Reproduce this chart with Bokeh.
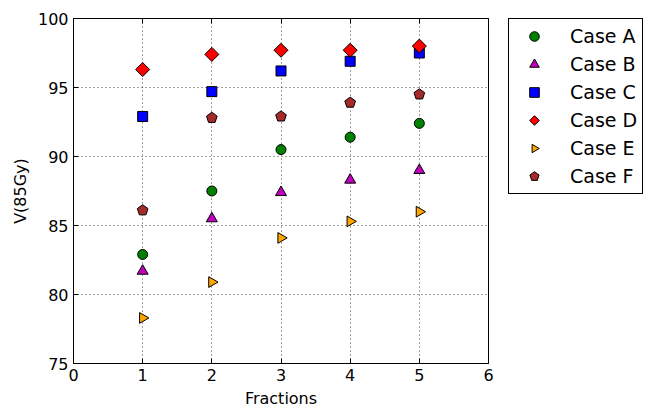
import numpy as np
from bokeh.plotting import figure
from bokeh.models import (ColumnDataSource, Legend, LegendItem, LinearAxis,
                          FixedTicker, Range1d)
from bokeh.embed import file_html
from bokeh.resources import INLINE

# ---- data ----
fractions = [1, 2, 3, 4, 5]
case_a = [82.9, 87.5, 90.5, 91.4, 92.4]
case_b = [81.7, 85.5, 87.4, 88.3, 89.0]
case_c = [92.9, 94.7, 96.2, 96.9, 97.5]
case_d = [96.3, 97.4, 97.7, 97.7, 98.0]
case_e = [78.3, 80.9, 84.1, 85.3, 86.0]
case_f = [86.1, 92.8, 92.9, 93.9, 94.5]
case_names = ["Case A", "Case B", "Case C", "Case D", "Case E", "Case F"]
x_ticks = [0, 1, 2, 3, 4, 5, 6]
y_ticks = [75, 80, 85, 90, 95, 100]
x_label = "Fractions"
y_label = "V(85Gy)"

FONT = "DejaVu Sans"
FW, FH = 415, 345

p = figure(frame_width=FW, frame_height=FH,
           x_range=Range1d(0, 6), y_range=Range1d(75, 100),
           output_backend="svg", toolbar_location=None,
           min_border_left=73, min_border_top=18,
           min_border_right=0, min_border_bottom=44)
p.background_fill_color = "white"
p.border_fill_color = "white"
p.outline_line_color = "black"
p.outline_line_width = 1
p.outline_line_alpha = 1

for ax, ticks in ((p.xaxis[0], x_ticks), (p.yaxis[0], y_ticks)):
    ax.ticker = FixedTicker(ticks=ticks)
    ax.major_tick_in = 5
    ax.major_tick_out = 0
    ax.minor_tick_line_color = None
    ax.axis_line_color = "black"
    ax.major_tick_line_color = "black"
    ax.major_label_text_font = FONT
    ax.major_label_text_font_size = "16px"
    ax.major_label_text_color = "black"
    ax.axis_label_text_font = FONT
    ax.axis_label_text_font_size = "16px"
    ax.axis_label_text_font_style = "normal"
    ax.axis_label_text_color = "black"
    ax.major_label_standoff = 5
    ax.axis_label_standoff = 5

p.xaxis[0].axis_label = x_label
p.yaxis[0].axis_label = y_label

# inward ticks on the top edge (no labels)
top_ax = LinearAxis(ticker=FixedTicker(ticks=x_ticks), major_tick_in=5,
                    major_tick_out=0, minor_tick_line_color=None,
                    major_label_overrides={t: "" for t in x_ticks},
                    major_label_standoff=0, axis_line_color=None)
p.add_layout(top_ax, "above")

for g in (p.xgrid[0], p.ygrid[0]):
    g.grid_line_color = "black"
    g.grid_line_dash = "1 3"
    g.grid_line_width = 1
    g.grid_line_alpha = 0.75

src = ColumnDataSource(dict(x=fractions, a=case_a, b=case_b, c=case_c,
                            d=case_d, e=case_e, f=case_f))

r_a = p.scatter("x", "a", source=src, marker="circle", size=10,
                fill_color="#008000", line_color="black", line_width=1)
r_b = p.scatter("x", "b", source=src, marker="triangle", size=11,
                fill_color="#bf00bf", line_color="black", line_width=1)
r_c = p.scatter("x", "c", source=src, marker="square", size=10,
                fill_color="#0000ff", line_color="black", line_width=1)
r_d = p.ngon("x", "d", source=src, radius=7, radius_units="screen", n=4,
             fill_color="#ff0000", line_color="black", line_width=1)
r_e = p.ngon("x", "e", source=src, radius=6.2, radius_units="screen", n=3,
             angle=-np.pi / 2,
             fill_color="#ffa500", line_color="black", line_width=1)
r_f = p.ngon("x", "f", source=src, radius=5.6, radius_units="screen", n=5,
             fill_color="#a52a2a", line_color="black", line_width=1)

legend = Legend(items=[LegendItem(label=n, renderers=[r])
                       for n, r in zip(case_names, [r_a, r_b, r_c, r_d, r_e, r_f])],
                location=(20, 169))
legend.label_text_font = FONT
legend.label_text_font_size = "19px"
legend.label_text_color = "black"
legend.glyph_width = 40
legend.glyph_height = 24
legend.label_height = 24
legend.spacing = 4
legend.padding = 5
legend.margin = 12
legend.label_standoff = 16
legend.border_line_color = "black"
legend.border_line_width = 1
legend.border_line_alpha = 1
legend.background_fill_alpha = 1
p.add_layout(legend, "right")

open("out.html", "w").write(file_html(p, INLINE))
